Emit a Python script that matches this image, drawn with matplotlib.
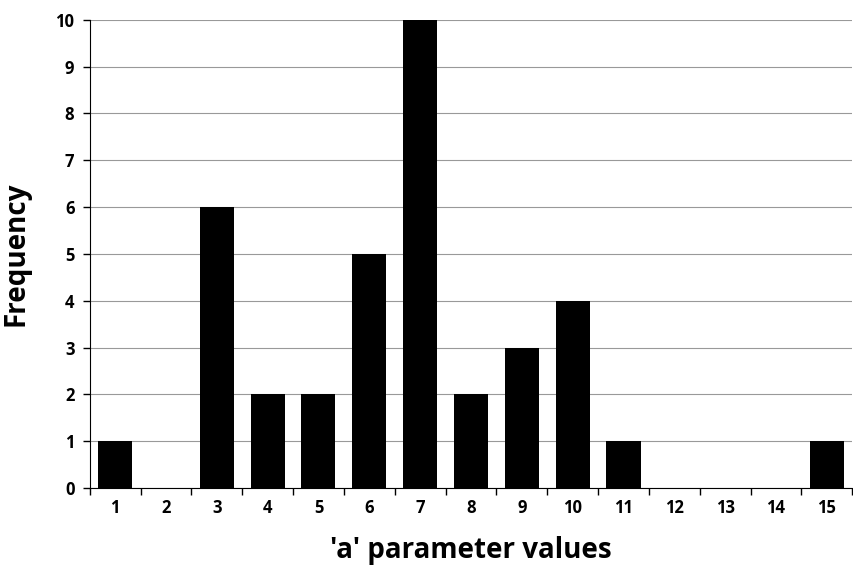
import numpy as np
import matplotlib
matplotlib.use("Agg")
from matplotlib import pyplot as plt

categories = [str(i) for i in range(1, 16)]
frequency = [1, 0, 6, 2, 2, 5, 10, 2, 3, 4, 1, 0, 0, 0, 1]

plt.rcParams["font.family"] = ["Open Sans", "DejaVu Sans"]

fig = plt.figure(figsize=(8.54, 5.68), dpi=100)
ax = fig.add_axes([0.105, 0.141, 0.893, 0.824])

x = np.arange(len(categories))
ax.bar(x, frequency, width=0.67, color="black", zorder=3)

ax.set_xlim(-0.5, len(categories) - 0.5)
ax.set_ylim(0, 10)
ax.set_yticks(range(0, 11))
ax.set_xticks(x)
ax.set_xticklabels(categories)
ax.set_xticks(np.arange(-0.5, len(categories)), minor=True)
ax.tick_params(axis="x", which="major", length=0, pad=8)
ax.tick_params(axis="x", which="minor", length=5, direction="out", width=1)
ax.tick_params(axis="y", length=5, direction="out", width=1, pad=6)
for lab in ax.get_xticklabels() + ax.get_yticklabels():
    lab.set_fontweight("bold")
    lab.set_fontsize(12)

ax.grid(axis="y", color="#999999", linewidth=0.8, zorder=0)
for side in ["top", "right"]:
    ax.spines[side].set_visible(False)
ax.spines["left"].set_color("black")
ax.spines["bottom"].set_color("black")

ax.set_xlabel("'a' parameter values", fontsize=20, fontweight="bold", labelpad=14)
ax.set_ylabel("Frequency", fontsize=20, fontweight="bold", labelpad=18)

fig.savefig("out.png", dpi=100)
